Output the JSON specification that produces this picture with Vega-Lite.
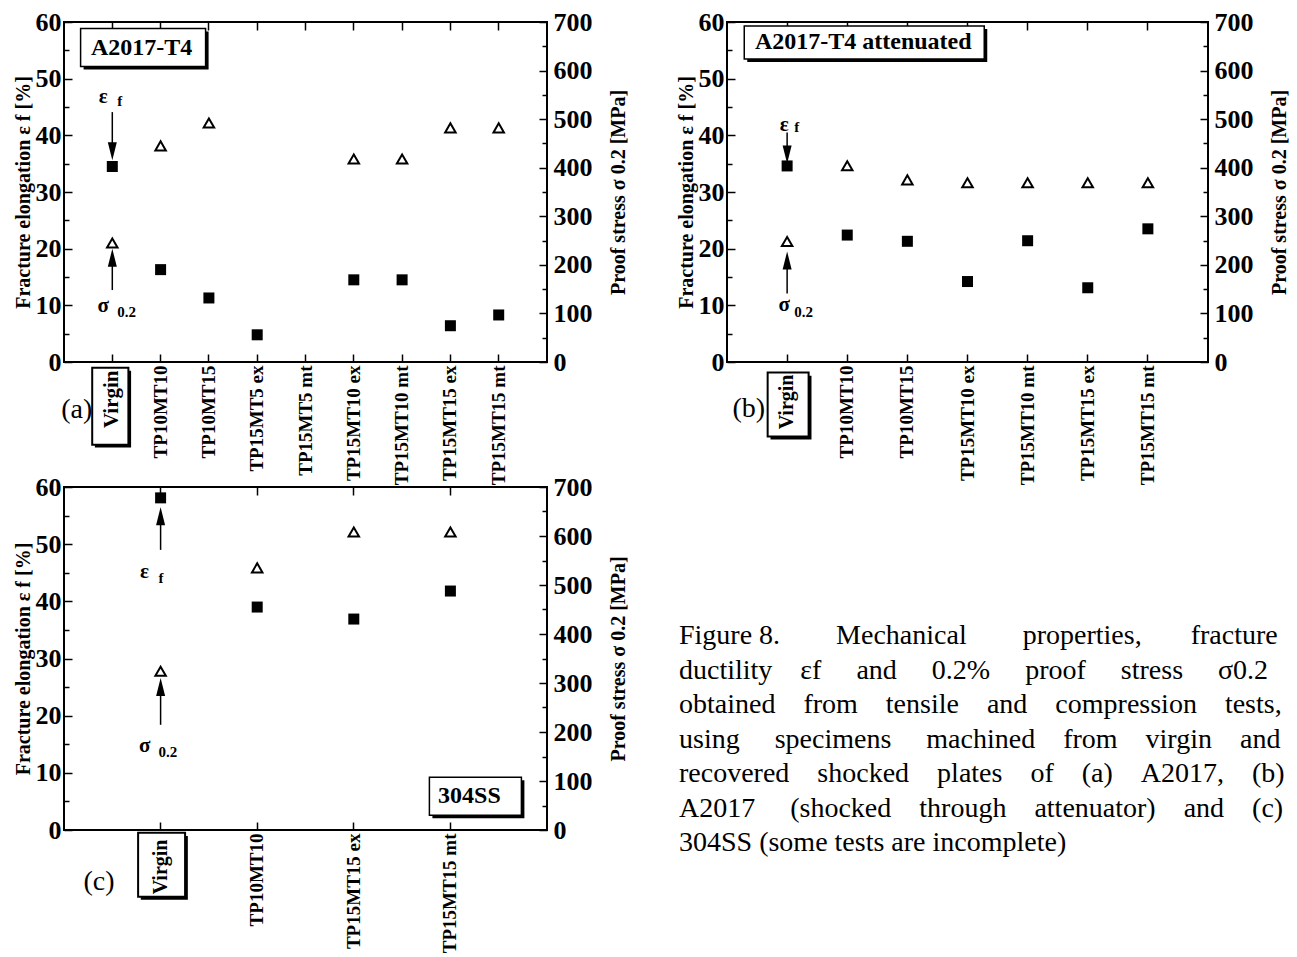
{
  "$schema": "https://vega.github.io/schema/vega-lite/v6.json",
  "padding": {"left": 12, "top": 8, "right": 0, "bottom": 0},
  "background": "white",
  "datasets": {
    "a_main": [
      {"cat": "Virgin", "elong": 34.5, "stress": 245},
      {"cat": "TP10MT10", "elong": 16.3, "stress": 445},
      {"cat": "TP10MT15", "elong": 11.3, "stress": 492},
      {"cat": "TP15MT5 ex", "elong": 4.8, "stress": null},
      {"cat": "TP15MT10 ex", "elong": 14.5, "stress": 418},
      {"cat": "TP15MT10 mt", "elong": 14.5, "stress": 418},
      {"cat": "TP15MT15 ex", "elong": 6.4, "stress": 482},
      {"cat": "TP15MT15 mt", "elong": 8.3, "stress": 482}
    ],
    "a_ann": [
      {"kind": "sym", "cat": "Virgin", "y": 46.8, "label": "ε"},
      {"kind": "sym", "cat": "Virgin", "y": 9.9, "label": "σ"},
      {"kind": "sub", "cat": "Virgin", "y": 46.1, "label": "f"},
      {"kind": "sub", "cat": "Virgin", "y": 8.8, "label": "0.2"},
      {"kind": "shaft", "cat": "Virgin", "y": 44.1, "y2": 37.2},
      {"kind": "shaft", "cat": "Virgin", "y": 18.4, "y2": 12.7},
      {"kind": "head", "cat": "Virgin", "y": 37.2, "dir": "down"},
      {"kind": "head", "cat": "Virgin", "y": 18.4, "dir": "up"},
      {"kind": "title", "cat": "TP10MT10", "y": 55.5, "label": "A2017-T4"},
      {"kind": "virgin", "cat": "Virgin", "y": -7.8},
      {"kind": "panel", "cat": "Virgin", "y": -8.5, "label": "(a)"}
    ],
    "b_main": [
      {"cat": "Virgin", "elong": 34.6, "stress": 248},
      {"cat": "TP10MT10", "elong": 22.4, "stress": 404},
      {"cat": "TP10MT15", "elong": 21.3, "stress": 375},
      {"cat": "TP15MT10 ex", "elong": 14.2, "stress": 369},
      {"cat": "TP15MT10 mt", "elong": 21.4, "stress": 369},
      {"cat": "TP15MT15 ex", "elong": 13.1, "stress": 369},
      {"cat": "TP15MT15 mt", "elong": 23.5, "stress": 369}
    ],
    "b_ann": [
      {"kind": "sym", "cat": "Virgin", "y": 41.9, "label": "ε"},
      {"kind": "sym", "cat": "Virgin", "y": 10.1, "label": "σ"},
      {"kind": "sub", "cat": "Virgin", "y": 41.4, "label": "f"},
      {"kind": "sub", "cat": "Virgin", "y": 8.9, "label": "0.2"},
      {"kind": "shaft", "cat": "Virgin", "y": 40.5, "y2": 36.6},
      {"kind": "shaft", "cat": "Virgin", "y": 17.9, "y2": 12.1},
      {"kind": "head", "cat": "Virgin", "y": 36.6, "dir": "down"},
      {"kind": "head", "cat": "Virgin", "y": 17.9, "dir": "up"},
      {"kind": "title", "cat": "TP10MT10", "y": 56.4, "label": "A2017-T4 attenuated"},
      {"kind": "virgin", "cat": "Virgin", "y": -7.5},
      {"kind": "panel", "cat": "Virgin", "y": -8.3, "label": "(b)"}
    ],
    "c_main": [
      {"cat": "Virgin", "elong": 58.1, "stress": 324},
      {"cat": "TP10MT10", "elong": 39.0, "stress": 535},
      {"cat": "TP15MT15 ex", "elong": 36.9, "stress": 608},
      {"cat": "TP15MT15 mt", "elong": 41.8, "stress": 608}
    ],
    "c_ann": [
      {"kind": "sym", "cat": "Virgin", "y": 45.1, "label": "ε"},
      {"kind": "sym", "cat": "Virgin", "y": 14.7, "label": "σ"},
      {"kind": "sub", "cat": "Virgin", "y": 44.1, "label": "f"},
      {"kind": "sub", "cat": "Virgin", "y": 13.6, "label": "0.2"},
      {"kind": "shaft", "cat": "Virgin", "y": 54.9, "y2": 49.0},
      {"kind": "shaft", "cat": "Virgin", "y": 25.0, "y2": 18.4},
      {"kind": "head", "cat": "Virgin", "y": 54.9, "dir": "up"},
      {"kind": "head", "cat": "Virgin", "y": 25.0, "dir": "up"},
      {"kind": "title", "cat": "TP15MT15 mt", "y": 5.9, "label": "304SS"},
      {"kind": "virgin", "cat": "Virgin", "y": -6.1},
      {"kind": "panel", "cat": "Virgin", "y": -9.1, "label": "(c)"}
    ],
    "caption": [
      {"line": 1, "text": "Figure 8. \u00a0\u00a0\u00a0\u00a0\u00a0\u00a0\u00a0Mechanical \u00a0\u00a0\u00a0\u00a0\u00a0\u00a0\u00a0properties, \u00a0\u00a0\u00a0\u00a0\u00a0\u00a0fracture"},
      {"line": 2, "text": "ductility \u00a0\u00a0\u00a0εf \u00a0\u00a0\u00a0\u00a0and \u00a0\u00a0\u00a0\u00a00.2% \u00a0\u00a0\u00a0\u00a0proof \u00a0\u00a0\u00a0\u00a0stress \u00a0\u00a0\u00a0\u00a0σ0.2"},
      {"line": 3, "text": "obtained \u00a0\u00a0\u00a0from \u00a0\u00a0\u00a0tensile \u00a0\u00a0\u00a0and \u00a0\u00a0\u00a0compression \u00a0\u00a0\u00a0tests,"},
      {"line": 4, "text": "using \u00a0\u00a0\u00a0\u00a0specimens \u00a0\u00a0\u00a0\u00a0machined \u00a0\u00a0\u00a0from \u00a0\u00a0\u00a0virgin \u00a0\u00a0\u00a0and"},
      {"line": 5, "text": "recovered \u00a0\u00a0\u00a0shocked \u00a0\u00a0\u00a0plates \u00a0\u00a0\u00a0of \u00a0\u00a0\u00a0(a) \u00a0\u00a0\u00a0A2017, \u00a0\u00a0\u00a0(b)"},
      {"line": 6, "text": "A2017 \u00a0\u00a0\u00a0\u00a0(shocked \u00a0\u00a0\u00a0through \u00a0\u00a0\u00a0attenuator) \u00a0\u00a0\u00a0and \u00a0\u00a0\u00a0(c)"},
      {"line": 7, "text": "304SS (some tests are incomplete)"}
    ]
  },
  "bounds": "flush",
  "columns": 2,
  "spacing": {"row": 125, "column": 180},
  "concat": [
    {
      "width": 483,
      "height": 340,
      "layer": [
        {
          "data": {"name": "a_main"},
          "mark": {"type": "point", "shape": "square", "filled": true, "color": "black", "size": 121, "opacity": 1},
          "encoding": {
            "x": {"field": "cat", "type": "nominal", "scale": {"domain": ["Virgin", "TP10MT10", "TP10MT15", "TP15MT5 ex", "TP15MT5 mt", "TP15MT10 ex", "TP15MT10 mt", "TP15MT15 ex", "TP15MT15 mt"], "padding": 1},
              "axis": {"title": null, "labelAngle": 270, "labelFontSize": {"condition": {"test": "datum.value === 'Virgin'", "value": 21}, "value": 19}, "tickSize": -8, "labelPadding": {"condition": {"test": "datum.value === 'Virgin'", "value": 16}, "value": 11}, "domain": false}},
            "y": {"field": "elong", "type": "quantitative", "scale": {"domain": [0, 60]},
              "axis": {"title": "Fracture elongation ε f [%]", "values": [0, 5, 10, 15, 20, 25, 30, 35, 40, 45, 50, 55, 60], "labelExpr": "datum.value % 10 === 0 ? datum.label : ''", "tickSize": {"condition": {"test": "datum.value % 10 === 0", "value": -8}, "value": -5}, "labelPadding": 11, "labelFontSize": 26, "titleFontSize": 20, "titlePadding": 2, "domain": false}}
          }
        },
        {
          "data": {"name": "a_ann"},
          "transform": [{"filter": "datum.kind === 'shaft'"}],
          "mark": {"type": "rule", "color": "black", "strokeWidth": 1.5},
          "encoding": {
            "x": {"field": "cat", "type": "nominal", "scale": {"domain": ["Virgin", "TP10MT10", "TP10MT15", "TP15MT5 ex", "TP15MT5 mt", "TP15MT10 ex", "TP15MT10 mt", "TP15MT15 ex", "TP15MT15 mt"], "padding": 1}, "axis": null},
            "y": {"field": "y", "type": "quantitative", "scale": {"domain": [0, 60]}, "axis": null},
            "y2": {"field": "y2"}
          }
        },
        {
          "data": {"name": "a_ann"},
          "transform": [{"filter": "datum.kind === 'head'"}],
          "mark": {"type": "point", "filled": true, "color": "black", "size": 324, "opacity": 1},
          "encoding": {
            "x": {"field": "cat", "type": "nominal", "scale": {"domain": ["Virgin", "TP10MT10", "TP10MT15", "TP15MT5 ex", "TP15MT5 mt", "TP15MT10 ex", "TP15MT10 mt", "TP15MT15 ex", "TP15MT15 mt"], "padding": 1}, "axis": null},
            "y": {"field": "y", "type": "quantitative", "scale": {"domain": [0, 60]}, "axis": null},
            "shape": {"field": "dir", "type": "nominal", "scale": {"domain": ["down", "up"], "range": ["M-0.5,-1L0.5,-1L0,1Z", "M-0.5,1L0.5,1L0,-1Z"]}, "legend": null}
          }
        },
        {
          "data": {"name": "a_ann"},
          "transform": [{"filter": "datum.kind === 'sym'"}],
          "mark": {"type": "text", "fontSize": 21, "fontWeight": "bold", "align": "center", "baseline": "middle", "dx": -9},
          "encoding": {
            "x": {"field": "cat", "type": "nominal", "scale": {"domain": ["Virgin", "TP10MT10", "TP10MT15", "TP15MT5 ex", "TP15MT5 mt", "TP15MT10 ex", "TP15MT10 mt", "TP15MT15 ex", "TP15MT15 mt"], "padding": 1}, "axis": null},
            "y": {"field": "y", "type": "quantitative", "scale": {"domain": [0, 60]}, "axis": null},
            "text": {"field": "label"}
          }
        },
        {
          "data": {"name": "a_ann"},
          "transform": [{"filter": "datum.kind === 'sub'"}],
          "mark": {"type": "text", "fontSize": 15, "fontWeight": "bold", "align": "left", "baseline": "middle", "dx": 5},
          "encoding": {
            "x": {"field": "cat", "type": "nominal", "scale": {"domain": ["Virgin", "TP10MT10", "TP10MT15", "TP15MT5 ex", "TP15MT5 mt", "TP15MT10 ex", "TP15MT10 mt", "TP15MT15 ex", "TP15MT15 mt"], "padding": 1}, "axis": null},
            "y": {"field": "y", "type": "quantitative", "scale": {"domain": [0, 60]}, "axis": null},
            "text": {"field": "label"}
          }
        },
        {
          "data": {"name": "a_ann"},
          "transform": [{"filter": "datum.kind === 'title'"}],
          "mark": {"type": "point", "shape": "M-1,-0.304H1V0.304H-1Z", "size": 15625, "filled": true, "color": "black", "opacity": 1, "xOffset": -14.5, "yOffset": 3},
          "encoding": {
            "x": {"field": "cat", "type": "nominal", "scale": {"domain": ["Virgin", "TP10MT10", "TP10MT15", "TP15MT5 ex", "TP15MT5 mt", "TP15MT10 ex", "TP15MT10 mt", "TP15MT15 ex", "TP15MT15 mt"], "padding": 1}, "axis": null},
            "y": {"field": "y", "type": "quantitative", "scale": {"domain": [0, 60]}, "axis": null}
          }
        },
        {
          "data": {"name": "a_ann"},
          "transform": [{"filter": "datum.kind === 'title'"}],
          "mark": {"type": "point", "shape": "M-1,-0.304H1V0.304H-1Z", "size": 15625, "filled": true, "fill": "white", "stroke": "black", "strokeWidth": 1.5, "opacity": 1, "xOffset": -17.5},
          "encoding": {
            "x": {"field": "cat", "type": "nominal", "scale": {"domain": ["Virgin", "TP10MT10", "TP10MT15", "TP15MT5 ex", "TP15MT5 mt", "TP15MT10 ex", "TP15MT10 mt", "TP15MT15 ex", "TP15MT15 mt"], "padding": 1}, "axis": null},
            "y": {"field": "y", "type": "quantitative", "scale": {"domain": [0, 60]}, "axis": null}
          }
        },
        {
          "data": {"name": "a_ann"},
          "transform": [{"filter": "datum.kind === 'title'"}],
          "mark": {"type": "text", "fontSize": 24, "fontWeight": "bold", "align": "center", "baseline": "middle", "dx": -19},
          "encoding": {
            "x": {"field": "cat", "type": "nominal", "scale": {"domain": ["Virgin", "TP10MT10", "TP10MT15", "TP15MT5 ex", "TP15MT5 mt", "TP15MT10 ex", "TP15MT10 mt", "TP15MT15 ex", "TP15MT15 mt"], "padding": 1}, "axis": null},
            "y": {"field": "y", "type": "quantitative", "scale": {"domain": [0, 60]}, "axis": null},
            "text": {"field": "label"}
          }
        },
        {
          "data": {"name": "a_ann"},
          "transform": [{"filter": "datum.kind === 'virgin'"}],
          "mark": {"type": "point", "shape": "M-0.47,-1H0.47V1H-0.47Z", "size": 5929, "filled": false, "stroke": "black", "strokeWidth": 2, "opacity": 1, "xOffset": -2},
          "encoding": {
            "x": {"field": "cat", "type": "nominal", "scale": {"domain": ["Virgin", "TP10MT10", "TP10MT15", "TP15MT5 ex", "TP15MT5 mt", "TP15MT10 ex", "TP15MT10 mt", "TP15MT15 ex", "TP15MT15 mt"], "padding": 1}, "axis": null},
            "y": {"field": "y", "type": "quantitative", "scale": {"domain": [0, 60]}, "axis": null}
          }
        },
        {
          "data": {"name": "a_ann"},
          "transform": [{"filter": "datum.kind === 'virgin'"}],
          "mark": {"type": "point", "shape": "M0.47,-0.92H0.54V1.07H-0.4V1H0.47Z", "size": 5929, "filled": true, "color": "black", "opacity": 1, "xOffset": -2},
          "encoding": {
            "x": {"field": "cat", "type": "nominal", "scale": {"domain": ["Virgin", "TP10MT10", "TP10MT15", "TP15MT5 ex", "TP15MT5 mt", "TP15MT10 ex", "TP15MT10 mt", "TP15MT15 ex", "TP15MT15 mt"], "padding": 1}, "axis": null},
            "y": {"field": "y", "type": "quantitative", "scale": {"domain": [0, 60]}, "axis": null}
          }
        },
        {
          "data": {"name": "a_ann"},
          "transform": [{"filter": "datum.kind === 'panel'"}],
          "mark": {"type": "text", "fontSize": 28, "align": "right", "baseline": "middle", "dx": -20},
          "encoding": {
            "x": {"field": "cat", "type": "nominal", "scale": {"domain": ["Virgin", "TP10MT10", "TP10MT15", "TP15MT5 ex", "TP15MT5 mt", "TP15MT10 ex", "TP15MT10 mt", "TP15MT15 ex", "TP15MT15 mt"], "padding": 1}, "axis": null},
            "y": {"field": "y", "type": "quantitative", "scale": {"domain": [0, 60]}, "axis": null},
            "text": {"field": "label"}
          }
        },
        {
          "data": {"name": "a_main"},
          "mark": {"type": "point", "shape": "triangle-up", "filled": false, "stroke": "black", "strokeWidth": 2, "size": 110, "opacity": 1},
          "encoding": {
            "x": {"field": "cat", "type": "nominal", "scale": {"domain": ["Virgin", "TP10MT10", "TP10MT15", "TP15MT5 ex", "TP15MT5 mt", "TP15MT10 ex", "TP15MT10 mt", "TP15MT15 ex", "TP15MT15 mt"], "padding": 1},
              "axis": {"orient": "top", "labels": false, "title": null, "domain": false, "tickSize": -8}},
            "y": {"field": "stress", "type": "quantitative", "scale": {"domain": [0, 700]},
              "axis": {"orient": "right", "title": "Proof stress σ 0.2 [MPa]", "titleAngle": 270, "titleBaseline": "top", "values": [0, 50, 100, 150, 200, 250, 300, 350, 400, 450, 500, 550, 600, 650, 700], "labelExpr": "datum.value % 100 === 0 ? datum.label : ''", "tickSize": {"condition": {"test": "datum.value % 100 === 0", "value": -8}, "value": -5}, "labelPadding": 14, "labelFontSize": 26, "titleFontSize": 20, "titlePadding": 16, "domain": false}}
          }
        }
      ],
      "resolve": {"scale": {"y": "independent"}, "axis": {"x": "independent"}}
    },
    {
      "width": 481,
      "height": 340,
      "layer": [
        {
          "data": {"name": "b_main"},
          "mark": {"type": "point", "shape": "square", "filled": true, "color": "black", "size": 121, "opacity": 1},
          "encoding": {
            "x": {"field": "cat", "type": "nominal", "scale": {"domain": ["Virgin", "TP10MT10", "TP10MT15", "TP15MT10 ex", "TP15MT10 mt", "TP15MT15 ex", "TP15MT15 mt"], "padding": 1},
              "axis": {"title": null, "labelAngle": 270, "labelFontSize": {"condition": {"test": "datum.value === 'Virgin'", "value": 20}, "value": 19}, "tickSize": -8, "labelPadding": {"condition": {"test": "datum.value === 'Virgin'", "value": 20}, "value": 11}, "domain": false}},
            "y": {"field": "elong", "type": "quantitative", "scale": {"domain": [0, 60]},
              "axis": {"title": "Fracture elongation ε f [%]", "values": [0, 5, 10, 15, 20, 25, 30, 35, 40, 45, 50, 55, 60], "labelExpr": "datum.value % 10 === 0 ? datum.label : ''", "tickSize": {"condition": {"test": "datum.value % 10 === 0", "value": -8}, "value": -5}, "labelPadding": 11, "labelFontSize": 26, "titleFontSize": 20, "titlePadding": 2, "domain": false}}
          }
        },
        {
          "data": {"name": "b_ann"},
          "transform": [{"filter": "datum.kind === 'shaft'"}],
          "mark": {"type": "rule", "color": "black", "strokeWidth": 1.5},
          "encoding": {
            "x": {"field": "cat", "type": "nominal", "scale": {"domain": ["Virgin", "TP10MT10", "TP10MT15", "TP15MT10 ex", "TP15MT10 mt", "TP15MT15 ex", "TP15MT15 mt"], "padding": 1}, "axis": null},
            "y": {"field": "y", "type": "quantitative", "scale": {"domain": [0, 60]}, "axis": null},
            "y2": {"field": "y2"}
          }
        },
        {
          "data": {"name": "b_ann"},
          "transform": [{"filter": "datum.kind === 'head'"}],
          "mark": {"type": "point", "filled": true, "color": "black", "size": 324, "opacity": 1},
          "encoding": {
            "x": {"field": "cat", "type": "nominal", "scale": {"domain": ["Virgin", "TP10MT10", "TP10MT15", "TP15MT10 ex", "TP15MT10 mt", "TP15MT15 ex", "TP15MT15 mt"], "padding": 1}, "axis": null},
            "y": {"field": "y", "type": "quantitative", "scale": {"domain": [0, 60]}, "axis": null},
            "shape": {"field": "dir", "type": "nominal", "scale": {"domain": ["down", "up"], "range": ["M-0.5,-1L0.5,-1L0,1Z", "M-0.5,1L0.5,1L0,-1Z"]}, "legend": null}
          }
        },
        {
          "data": {"name": "b_ann"},
          "transform": [{"filter": "datum.kind === 'sym'"}],
          "mark": {"type": "text", "fontSize": 21, "fontWeight": "bold", "align": "center", "baseline": "middle", "dx": -3},
          "encoding": {
            "x": {"field": "cat", "type": "nominal", "scale": {"domain": ["Virgin", "TP10MT10", "TP10MT15", "TP15MT10 ex", "TP15MT10 mt", "TP15MT15 ex", "TP15MT15 mt"], "padding": 1}, "axis": null},
            "y": {"field": "y", "type": "quantitative", "scale": {"domain": [0, 60]}, "axis": null},
            "text": {"field": "label"}
          }
        },
        {
          "data": {"name": "b_ann"},
          "transform": [{"filter": "datum.kind === 'sub'"}],
          "mark": {"type": "text", "fontSize": 15, "fontWeight": "bold", "align": "left", "baseline": "middle", "dx": 7},
          "encoding": {
            "x": {"field": "cat", "type": "nominal", "scale": {"domain": ["Virgin", "TP10MT10", "TP10MT15", "TP15MT10 ex", "TP15MT10 mt", "TP15MT15 ex", "TP15MT15 mt"], "padding": 1}, "axis": null},
            "y": {"field": "y", "type": "quantitative", "scale": {"domain": [0, 60]}, "axis": null},
            "text": {"field": "label"}
          }
        },
        {
          "data": {"name": "b_ann"},
          "transform": [{"filter": "datum.kind === 'title'"}],
          "mark": {"type": "point", "shape": "M-1,-0.1375H1V0.1375H-1Z", "size": 57600, "filled": true, "color": "black", "opacity": 1, "xOffset": 20, "yOffset": 3},
          "encoding": {
            "x": {"field": "cat", "type": "nominal", "scale": {"domain": ["Virgin", "TP10MT10", "TP10MT15", "TP15MT10 ex", "TP15MT10 mt", "TP15MT15 ex", "TP15MT15 mt"], "padding": 1}, "axis": null},
            "y": {"field": "y", "type": "quantitative", "scale": {"domain": [0, 60]}, "axis": null}
          }
        },
        {
          "data": {"name": "b_ann"},
          "transform": [{"filter": "datum.kind === 'title'"}],
          "mark": {"type": "point", "shape": "M-1,-0.1375H1V0.1375H-1Z", "size": 57600, "filled": true, "fill": "white", "stroke": "black", "strokeWidth": 1.5, "opacity": 1, "xOffset": 17},
          "encoding": {
            "x": {"field": "cat", "type": "nominal", "scale": {"domain": ["Virgin", "TP10MT10", "TP10MT15", "TP15MT10 ex", "TP15MT10 mt", "TP15MT15 ex", "TP15MT15 mt"], "padding": 1}, "axis": null},
            "y": {"field": "y", "type": "quantitative", "scale": {"domain": [0, 60]}, "axis": null}
          }
        },
        {
          "data": {"name": "b_ann"},
          "transform": [{"filter": "datum.kind === 'title'"}],
          "mark": {"type": "text", "fontSize": 24, "fontWeight": "bold", "align": "center", "baseline": "middle", "dx": 16},
          "encoding": {
            "x": {"field": "cat", "type": "nominal", "scale": {"domain": ["Virgin", "TP10MT10", "TP10MT15", "TP15MT10 ex", "TP15MT10 mt", "TP15MT15 ex", "TP15MT15 mt"], "padding": 1}, "axis": null},
            "y": {"field": "y", "type": "quantitative", "scale": {"domain": [0, 60]}, "axis": null},
            "text": {"field": "label"}
          }
        },
        {
          "data": {"name": "b_ann"},
          "transform": [{"filter": "datum.kind === 'virgin'"}],
          "mark": {"type": "point", "shape": "M-0.64,-1H0.64V1H-0.64Z", "size": 4096, "filled": false, "stroke": "black", "strokeWidth": 2, "opacity": 1, "xOffset": 1},
          "encoding": {
            "x": {"field": "cat", "type": "nominal", "scale": {"domain": ["Virgin", "TP10MT10", "TP10MT15", "TP15MT10 ex", "TP15MT10 mt", "TP15MT15 ex", "TP15MT15 mt"], "padding": 1}, "axis": null},
            "y": {"field": "y", "type": "quantitative", "scale": {"domain": [0, 60]}, "axis": null}
          }
        },
        {
          "data": {"name": "b_ann"},
          "transform": [{"filter": "datum.kind === 'virgin'"}],
          "mark": {"type": "point", "shape": "M0.64,-0.9H0.73V1.09H-0.55V1H0.64Z", "size": 4096, "filled": true, "color": "black", "opacity": 1, "xOffset": 1},
          "encoding": {
            "x": {"field": "cat", "type": "nominal", "scale": {"domain": ["Virgin", "TP10MT10", "TP10MT15", "TP15MT10 ex", "TP15MT10 mt", "TP15MT15 ex", "TP15MT15 mt"], "padding": 1}, "axis": null},
            "y": {"field": "y", "type": "quantitative", "scale": {"domain": [0, 60]}, "axis": null}
          }
        },
        {
          "data": {"name": "b_ann"},
          "transform": [{"filter": "datum.kind === 'panel'"}],
          "mark": {"type": "text", "fontSize": 28, "align": "right", "baseline": "middle", "dx": -22},
          "encoding": {
            "x": {"field": "cat", "type": "nominal", "scale": {"domain": ["Virgin", "TP10MT10", "TP10MT15", "TP15MT10 ex", "TP15MT10 mt", "TP15MT15 ex", "TP15MT15 mt"], "padding": 1}, "axis": null},
            "y": {"field": "y", "type": "quantitative", "scale": {"domain": [0, 60]}, "axis": null},
            "text": {"field": "label"}
          }
        },
        {
          "data": {"name": "b_main"},
          "mark": {"type": "point", "shape": "triangle-up", "filled": false, "stroke": "black", "strokeWidth": 2, "size": 110, "opacity": 1},
          "encoding": {
            "x": {"field": "cat", "type": "nominal", "scale": {"domain": ["Virgin", "TP10MT10", "TP10MT15", "TP15MT10 ex", "TP15MT10 mt", "TP15MT15 ex", "TP15MT15 mt"], "padding": 1},
              "axis": {"orient": "top", "labels": false, "title": null, "domain": false, "tickSize": -8}},
            "y": {"field": "stress", "type": "quantitative", "scale": {"domain": [0, 700]},
              "axis": {"orient": "right", "title": "Proof stress σ 0.2 [MPa]", "titleAngle": 270, "titleBaseline": "top", "values": [0, 50, 100, 150, 200, 250, 300, 350, 400, 450, 500, 550, 600, 650, 700], "labelExpr": "datum.value % 100 === 0 ? datum.label : ''", "tickSize": {"condition": {"test": "datum.value % 100 === 0", "value": -8}, "value": -5}, "labelPadding": 14, "labelFontSize": 26, "titleFontSize": 20, "titlePadding": 16, "domain": false}}
          }
        }
      ],
      "resolve": {"scale": {"y": "independent"}, "axis": {"x": "independent"}}
    },
    {
      "width": 483,
      "height": 343,
      "layer": [
        {
          "data": {"name": "c_main"},
          "mark": {"type": "point", "shape": "square", "filled": true, "color": "black", "size": 121, "opacity": 1},
          "encoding": {
            "x": {"field": "cat", "type": "nominal", "scale": {"domain": ["Virgin", "TP10MT10", "TP15MT15 ex", "TP15MT15 mt"], "padding": 1},
              "axis": {"title": null, "labelAngle": 270, "labelFontSize": {"condition": {"test": "datum.value === 'Virgin'", "value": 20}, "value": 19}, "tickSize": -8, "labelPadding": {"condition": {"test": "datum.value === 'Virgin'", "value": 17}, "value": 11}, "domain": false}},
            "y": {"field": "elong", "type": "quantitative", "scale": {"domain": [0, 60]},
              "axis": {"title": "Fracture elongation ε f [%]", "values": [0, 5, 10, 15, 20, 25, 30, 35, 40, 45, 50, 55, 60], "labelExpr": "datum.value % 10 === 0 ? datum.label : ''", "tickSize": {"condition": {"test": "datum.value % 10 === 0", "value": -8}, "value": -5}, "labelPadding": 11, "labelFontSize": 26, "titleFontSize": 20, "titlePadding": 2, "domain": false}}
          }
        },
        {
          "data": {"name": "c_ann"},
          "transform": [{"filter": "datum.kind === 'shaft'"}],
          "mark": {"type": "rule", "color": "black", "strokeWidth": 1.5},
          "encoding": {
            "x": {"field": "cat", "type": "nominal", "scale": {"domain": ["Virgin", "TP10MT10", "TP15MT15 ex", "TP15MT15 mt"], "padding": 1}, "axis": null},
            "y": {"field": "y", "type": "quantitative", "scale": {"domain": [0, 60]}, "axis": null},
            "y2": {"field": "y2"}
          }
        },
        {
          "data": {"name": "c_ann"},
          "transform": [{"filter": "datum.kind === 'head'"}],
          "mark": {"type": "point", "filled": true, "color": "black", "size": 324, "opacity": 1},
          "encoding": {
            "x": {"field": "cat", "type": "nominal", "scale": {"domain": ["Virgin", "TP10MT10", "TP15MT15 ex", "TP15MT15 mt"], "padding": 1}, "axis": null},
            "y": {"field": "y", "type": "quantitative", "scale": {"domain": [0, 60]}, "axis": null},
            "shape": {"field": "dir", "type": "nominal", "scale": {"domain": ["down", "up"], "range": ["M-0.5,-1L0.5,-1L0,1Z", "M-0.5,1L0.5,1L0,-1Z"]}, "legend": null}
          }
        },
        {
          "data": {"name": "c_ann"},
          "transform": [{"filter": "datum.kind === 'sym'"}],
          "mark": {"type": "text", "fontSize": 21, "fontWeight": "bold", "align": "center", "baseline": "middle", "dx": -16},
          "encoding": {
            "x": {"field": "cat", "type": "nominal", "scale": {"domain": ["Virgin", "TP10MT10", "TP15MT15 ex", "TP15MT15 mt"], "padding": 1}, "axis": null},
            "y": {"field": "y", "type": "quantitative", "scale": {"domain": [0, 60]}, "axis": null},
            "text": {"field": "label"}
          }
        },
        {
          "data": {"name": "c_ann"},
          "transform": [{"filter": "datum.kind === 'sub'"}],
          "mark": {"type": "text", "fontSize": 15, "fontWeight": "bold", "align": "left", "baseline": "middle", "dx": -2},
          "encoding": {
            "x": {"field": "cat", "type": "nominal", "scale": {"domain": ["Virgin", "TP10MT10", "TP15MT15 ex", "TP15MT15 mt"], "padding": 1}, "axis": null},
            "y": {"field": "y", "type": "quantitative", "scale": {"domain": [0, 60]}, "axis": null},
            "text": {"field": "label"}
          }
        },
        {
          "data": {"name": "c_ann"},
          "transform": [{"filter": "datum.kind === 'title'"}],
          "mark": {"type": "point", "shape": "M-1,-0.413H1V0.413H-1Z", "size": 8464, "filled": true, "color": "black", "opacity": 1, "xOffset": 28, "yOffset": 3},
          "encoding": {
            "x": {"field": "cat", "type": "nominal", "scale": {"domain": ["Virgin", "TP10MT10", "TP15MT15 ex", "TP15MT15 mt"], "padding": 1}, "axis": null},
            "y": {"field": "y", "type": "quantitative", "scale": {"domain": [0, 60]}, "axis": null}
          }
        },
        {
          "data": {"name": "c_ann"},
          "transform": [{"filter": "datum.kind === 'title'"}],
          "mark": {"type": "point", "shape": "M-1,-0.413H1V0.413H-1Z", "size": 8464, "filled": true, "fill": "white", "stroke": "black", "strokeWidth": 1.5, "opacity": 1, "xOffset": 25},
          "encoding": {
            "x": {"field": "cat", "type": "nominal", "scale": {"domain": ["Virgin", "TP10MT10", "TP15MT15 ex", "TP15MT15 mt"], "padding": 1}, "axis": null},
            "y": {"field": "y", "type": "quantitative", "scale": {"domain": [0, 60]}, "axis": null}
          }
        },
        {
          "data": {"name": "c_ann"},
          "transform": [{"filter": "datum.kind === 'title'"}],
          "mark": {"type": "text", "fontSize": 24, "fontWeight": "bold", "align": "center", "baseline": "middle", "dx": 19},
          "encoding": {
            "x": {"field": "cat", "type": "nominal", "scale": {"domain": ["Virgin", "TP10MT10", "TP15MT15 ex", "TP15MT15 mt"], "padding": 1}, "axis": null},
            "y": {"field": "y", "type": "quantitative", "scale": {"domain": [0, 60]}, "axis": null},
            "text": {"field": "label"}
          }
        },
        {
          "data": {"name": "c_ann"},
          "transform": [{"filter": "datum.kind === 'virgin'"}],
          "mark": {"type": "point", "shape": "M-0.734,-1H0.734V1H-0.734Z", "size": 4096, "filled": false, "stroke": "black", "strokeWidth": 2, "opacity": 1, "xOffset": 1},
          "encoding": {
            "x": {"field": "cat", "type": "nominal", "scale": {"domain": ["Virgin", "TP10MT10", "TP15MT15 ex", "TP15MT15 mt"], "padding": 1}, "axis": null},
            "y": {"field": "y", "type": "quantitative", "scale": {"domain": [0, 60]}, "axis": null}
          }
        },
        {
          "data": {"name": "c_ann"},
          "transform": [{"filter": "datum.kind === 'virgin'"}],
          "mark": {"type": "point", "shape": "M0.734,-0.9H0.82V1.09H-0.65V1H0.734Z", "size": 4096, "filled": true, "color": "black", "opacity": 1, "xOffset": 1},
          "encoding": {
            "x": {"field": "cat", "type": "nominal", "scale": {"domain": ["Virgin", "TP10MT10", "TP15MT15 ex", "TP15MT15 mt"], "padding": 1}, "axis": null},
            "y": {"field": "y", "type": "quantitative", "scale": {"domain": [0, 60]}, "axis": null}
          }
        },
        {
          "data": {"name": "c_ann"},
          "transform": [{"filter": "datum.kind === 'panel'"}],
          "mark": {"type": "text", "fontSize": 28, "align": "right", "baseline": "middle", "dx": -46},
          "encoding": {
            "x": {"field": "cat", "type": "nominal", "scale": {"domain": ["Virgin", "TP10MT10", "TP15MT15 ex", "TP15MT15 mt"], "padding": 1}, "axis": null},
            "y": {"field": "y", "type": "quantitative", "scale": {"domain": [0, 60]}, "axis": null},
            "text": {"field": "label"}
          }
        },
        {
          "data": {"name": "c_main"},
          "mark": {"type": "point", "shape": "triangle-up", "filled": false, "stroke": "black", "strokeWidth": 2, "size": 110, "opacity": 1},
          "encoding": {
            "x": {"field": "cat", "type": "nominal", "scale": {"domain": ["Virgin", "TP10MT10", "TP15MT15 ex", "TP15MT15 mt"], "padding": 1},
              "axis": {"orient": "top", "labels": false, "title": null, "domain": false, "tickSize": -8}},
            "y": {"field": "stress", "type": "quantitative", "scale": {"domain": [0, 700]},
              "axis": {"orient": "right", "title": "Proof stress σ 0.2 [MPa]", "titleAngle": 270, "titleBaseline": "top", "values": [0, 50, 100, 150, 200, 250, 300, 350, 400, 450, 500, 550, 600, 650, 700], "labelExpr": "datum.value % 100 === 0 ? datum.label : ''", "tickSize": {"condition": {"test": "datum.value % 100 === 0", "value": -8}, "value": -5}, "labelPadding": 14, "labelFontSize": 26, "titleFontSize": 20, "titlePadding": 16, "domain": false}}
          }
        }
      ],
      "resolve": {"scale": {"y": "independent"}, "axis": {"x": "independent"}}
    },
    {
      "width": 610,
      "height": 356,
      "view": {"stroke": null},
      "data": {"name": "caption"},
      "mark": {"type": "text", "align": "left", "baseline": "middle", "fontSize": 28, "font": "Liberation Serif", "dx": -48},
      "encoding": {
        "y": {"field": "line", "type": "quantitative", "axis": null, "scale": {"domain": [-3.32, 7], "reverse": true, "nice": false, "zero": false}},
        "x": {"datum": 0, "type": "quantitative", "scale": {"domain": [0, 1]}, "axis": null},
        "text": {"field": "text"}
      }
    }
  ],
  "config": {
    "font": "Liberation Serif",
    "view": {"stroke": "black", "strokeWidth": 2},
    "axis": {"labelFont": "Liberation Serif", "labelFontWeight": "bold", "titleFont": "Liberation Serif", "titleFontWeight": "bold", "labelColor": "black", "titleColor": "black", "domainColor": "black", "tickColor": "black", "tickWidth": 1.5, "grid": false},
    "text": {"font": "Liberation Serif", "color": "black"}
  }
}
